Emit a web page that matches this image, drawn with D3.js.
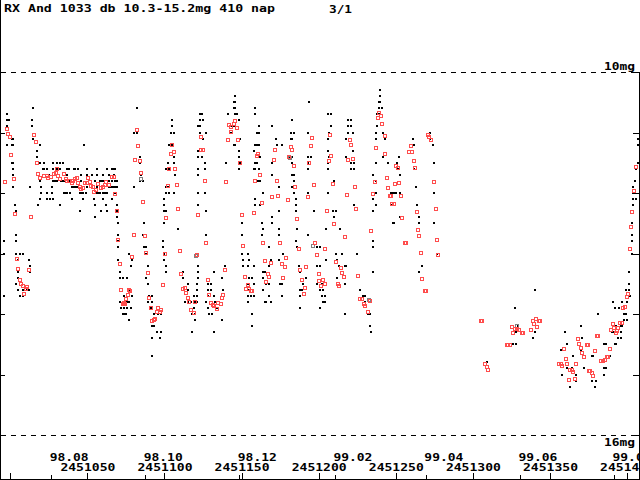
<!DOCTYPE html>
<html>
<head>
<meta charset="utf-8">
<title>RX And light curve</title>
<script src="https://d3js.org/d3.v7.min.js"></script>
<style>
  body { margin: 0; background: #fff; }
  svg { display: block; shape-rendering: crispEdges; }
  text { font-family: "DejaVu Sans Mono", monospace; font-weight: bold; font-size: 10px; fill: #000; }
  .axis line { stroke: #000; }
  .frame { stroke: #000; stroke-width: 1; }
  .dash { stroke: #000; stroke-dasharray: 5,5; }
</style>
</head>
<body>
<script>
const jd0 = 2451000;

// visual estimates (black dots): [day after JD 2451000, [magnitudes]]
const visualObs = [
  [-4,[12.8,13.0,13.7]],[-2,[10.7,10.8,10.9,11.2]],[-1,[10.8]],[1,[11.1,11.2,11.5]],
  [2,[11.1,11.2,11.5,11.6,11.7,11.9]],[3,[12.2]],[4,[12.3,12.7,12.8,13.0,13.5]],[5,[13.1,13.3,13.4,13.6]],
  [6,[13.0,13.7]],[8,[13.0,13.6,13.7]],[11,[13.6]],[12,[13.1,13.6]],[13,[11.9,13.2,13.3]],
  [14,[10.8,10.9]],[15,[10.6,11.1]],[17,[11.3,11.4]],[18,[12.2]],[19,[11.2,11.5,11.8,12.1]],
  [20,[11.9,12.0]],[21,[11.6]],[22,[11.5,11.6]],[24,[11.6,12.0,12.1]],[25,[11.7]],[26,[12.1]],
  [27,[11.9,12.0]],[28,[11.5,11.6,11.8,12.1]],[29,[11.8]],[30,[11.5,11.6,11.8]],[32,[11.5,11.6,12.2]],
  [33,[11.8]],[34,[11.5,11.8]],[35,[11.8,12.0]],[36,[12.0]],[37,[11.6,11.7,12.0]],[38,[11.6,11.8]],
  [39,[11.8,12.0]],[40,[11.9,12.1]],[41,[11.6,11.8,11.9]],[42,[11.6,11.9]],[43,[11.9]],[44,[11.6,11.9]],
  [45,[12.0,12.3]],[46,[11.7,11.8,12.0]],[47,[12.0,12.1]],[48,[11.2]],[49,[12.0]],[50,[11.6,11.7,11.9]],
  [53,[11.7]],[54,[12.1]],[55,[11.8,12.2,12.4]],[56,[11.6,11.7,11.9,12.0]],[57,[12.0]],[58,[11.8,12.0]],
  [59,[11.8,12.3]],[60,[11.7,11.8,12.0,12.1]],[61,[12.0]],[62,[12.0,12.2]],[63,[11.6,12.0,12.3]],
  [64,[11.7,11.8,11.9]],[65,[11.9]],[66,[11.6,11.8,11.9,12.1]],[67,[11.6,11.7,11.9]],[68,[11.6,11.8,11.9,12.0]],
  [69,[11.8,11.9,12.2,12.3,12.4]],[70,[12.5,12.7,12.8,12.9,13.1]],[71,[13.3,13.4,13.8]],[72,[13.9]],
  [73,[13.4,13.8,14.0]],[74,[13.7,13.8,13.9,14.0]],[75,[14.0]],[76,[13.4,13.8,13.9]],[77,[13.0,13.6,13.8,14.1]],
  [78,[13.2,13.6,13.9]],[79,[13.1,13.7]],[80,[11.0,11.9]],[82,[10.6,11.0]],[84,[11.4,11.5,11.8]],[85,[11.7]],
  [86,[11.8,12.7]],[87,[12.5,12.9]],[88,[12.9,13.0,13.4]],[89,[13.2,13.5,13.8]],[90,[13.7]],[91,[13.9]],
  [92,[13.7,13.8,14.2,14.4,14.7]],[93,[14.0,14.2]],[95,[14.3]],[96,[14.0]],[97,[14.4]],[98,[14.0,14.3]],
  [99,[12.8,12.9]],[100,[12.1,12.2,12.3,12.5,13.0,13.1]],[101,[11.6,11.9,12.0,12.3,13.2,13.3]],[102,[11.5,11.9]],
  [103,[11.2,11.6,12.0]],[104,[11.0]],[105,[10.8,10.9,11.2]],[106,[11.0,11.4,11.5,12.0]],[107,[11.7]],[109,[12.6]],
  [112,[13.3,13.4]],[113,[13.8]],[115,[13.5,13.6,13.8]],[117,[13.8]],[118,[14.0,14.3]],[119,[13.7,13.9]],
  [120,[13.8,14.0,14.1]],[121,[13.5,13.6,13.7,13.8]],[122,[10.9,11.3,11.4,11.6,11.7,12.0,12.2,13.2,13.3,13.4]],
  [123,[10.7,10.8,10.9,11.0]],[124,[10.7,11.4]],[125,[10.8,11.1]],[126,[11.5,11.6,12.0]],[127,[11.0,12.3,12.7,13.8]],
  [128,[13.5,13.6,13.7,13.9]],[129,[14.0]],[130,[13.5,13.6]],[131,[14.0]],[132,[13.3,13.7,14.3]],[133,[13.8]],
  [134,[13.9]],[137,[13.4,14.1]],[138,[13.6]],[139,[13.2]],[140,[11.5]],[141,[10.7]],[143,[11.0]],[144,[10.9,11.0]],
  [145,[10.5,10.6,10.9,11.2]],[146,[10.4,10.5,10.6,10.7,11.2]],[147,[10.7]],[148,[10.8,11.3,11.4,11.6]],
  [149,[11.1,11.5]],[150,[12.5,12.7,13.0]],[151,[13.1,13.2]],[154,[13.0,13.2,13.5,13.6,13.7,13.8]],
  [155,[13.1,13.4,13.6]],[156,[13.7]],[157,[13.4,14.0,14.2]],[158,[11.3,11.6,13.2,13.5,13.7]],
  [159,[10.6,10.7,11.2,11.5,11.6,12.1,12.2]],[160,[11.0,11.2,11.5,11.8]],[161,[10.9,11.0,11.2,11.4,11.6,11.8]],
  [162,[11.4,11.8,12.2]],[163,[12.5,12.7]],[164,[12.0,12.6,13.3,13.4,13.6]],[165,[13.3,13.8]],[166,[13.5,13.8]],
  [168,[12.9,13.2,13.5,13.7]],[169,[13.1,13.8]],[170,[10.9,11.5,11.7,12.4,12.5]],[172,[11.1]],[173,[11.2]],
  [174,[11.9,12.3,12.6,12.7,13.1]],[175,[13.5]],[176,[11.2,13.5,13.7]],[177,[13.0]],[181,[11.4]],[182,[11.0,11.1]],
  [183,[10.8,11.1,11.4,11.5,11.7,11.9]],[184,[11.0,11.7,11.8,12.0]],[185,[12.1,12.2,12.3,12.8]],[186,[12.6,12.9]],
  [187,[13.2]],[188,[13.3,13.6,13.7,13.9]],[189,[13.6]],[190,[13.5]],[192,[13.4]],[193,[11.0,11.4,11.5,11.6,12.0,12.7]],
  [194,[10.5]],[195,[11.4]],[197,[12.3]],[199,[12.9,13.2,13.5]],[201,[12.9,13.2,13.6,13.9]],[202,[13.5,13.7]],
  [203,[13.6,13.8]],[204,[13.7,13.8]],[205,[12.6,13.1]],[206,[10.7,11.1,11.3,11.5,11.6,12.0]],[207,[11.0,11.4]],
  [208,[10.7,10.9]],[209,[12.3]],[210,[11.8,12.4]],[211,[12.3,13.0]],[212,[13.1,13.4]],[213,[13.2]],[214,[12.6]],
  [215,[13.0]],[217,[13.2,13.5,14.0]],[218,[11.1,11.4,13.2]],[219,[10.8,10.9,11.0]],[221,[10.8,10.9,11.5,11.6]],
  [222,[11.0,11.3]],[223,[11.5,11.6,12.2]],[225,[13.0]],[227,[13.6]],[229,[13.7]],[230,[13.7,13.8]],[232,[14.0]],
  [233,[14.0,14.2]],[234,[14.3]],[235,[11.7,12.1,12.3,12.8,12.9,13.3]],[237,[11.0,11.1,11.5,11.8,12.0,12.2]],
  [238,[10.7,10.9]],[239,[10.5,10.6,10.7]],[240,[10.3,10.4,10.5]],[241,[10.6]],[242,[11.0,11.4]],[243,[11.1]],
  [245,[11.5]],[247,[12.0,12.2]],[248,[12.0,12.5]],[249,[12.0,12.5]],[250,[12.0]],[251,[11.5,11.6]],[252,[11.4,11.6]],
  [253,[11.7,12.0,12.4]],[261,[11.1]],[262,[11.2,11.6]],[263,[11.9]],[264,[12.2]],[265,[12.4,12.5,13.3]],[267,[13.2]],
  [272,[11.0,11.1]],[274,[11.2]],[275,[11.5,12.0,12.5]],[277,[13.0]],[309,[14.8]],[326,[14.5]],[327,[13.9]],
  [328,[14.3,14.5]],[329,[14.2]],[339,[14.4]],[340,[13.6,14.3]],[357,[14.6]],[358,[15.0]],[360,[14.3]],
  [361,[14.5,14.9]],[363,[15.2]],[364,[14.9]],[365,[14.7]],[367,[15.0,15.1]],[370,[14.2,14.6]],[371,[14.4]],
  [372,[14.9]],[377,[14.7,15.1]],[378,[14.7]],[379,[15.2]],[380,[15.1]],[381,[14.0]],[385,[14.5,14.9,15.0]],
  [386,[14.5,14.9]],[389,[14.7]],[390,[14.3]],[391,[13.8,14.3]],[392,[13.9,14.5]],[393,[14.2,14.5]],[394,[14.3,14.4]],
  [395,[13.9]],[396,[14.2,14.3,14.4]],[397,[13.8,14.2]],[398,[14.0,14.1]],[399,[13.6,14.0]],[400,[13.8,14.1]],
  [401,[13.3,13.5,13.6]],[402,[13.7]],[403,[12.5,12.7,12.8,13.0]],[404,[11.9,12.0,12.1,12.2]],[405,[11.8]],
  [406,[11.6,12.1]],[407,[11.1,11.2,11.5]]
];

// red squares: [day, magnitude]
const redObs = [
  [-2.1,10.94],[-1.5,11.02],[-0.2,11.07],[0.5,11.37],[-3.4,11.82],[2.4,11.77],[3.0,12.35],[4.3,13.09],
  [5.0,13.26],[6.3,13.44],[7.0,13.50],[8.2,13.54],[10.2,13.59],[10.8,13.55],[8.9,13.67],[12.1,13.27],
  [15.4,11.04],[16.7,11.16],[17.3,11.50],[13.4,12.40],
  [18,11.69],[19.3,11.75],[21.9,11.72],[23.8,11.72],[24.5,11.75],[26.4,11.74],[28.4,11.69],[29.7,11.67],
  [30.3,11.60],[31,11.72],[32.2,11.77],[34.8,11.69],[36.1,11.77],[36.8,11.80],[38.1,11.80],[40,11.83],
  [40.7,11.80],[42,11.77],[43.3,11.75],[43.9,11.83],[45.2,11.90],[45.9,11.93],[47.2,11.92],[48.5,11.83],
  [49.8,11.83],[50.4,11.75],[51.7,11.82],[52.3,11.88],[53.6,11.90],[54.3,11.98],[55.6,11.95],[56.9,11.85],
  [58.8,11.92],[60.1,11.90],[61.4,11.87],[62.1,11.82],[64,11.87],[66,11.74],[67.3,11.74],[67.9,12.02],
  [69.2,12.30],[69.9,12.78],[71.2,13.17],[71.8,13.60],[77,13.60],[76.4,13.69],[75.1,13.75],[73.8,13.82],
  [73.1,13.84],[74.4,13.84],
  [82.3,10.96],[82.9,11.22],[81,11.45],[84.2,11.47],[84.9,11.67],[86.2,12.15],[80.4,12.69],[87.5,12.71],
  [79.1,13.06],[88.1,12.99],[89.4,13.32],[77.6,13.62],[90,13.74],[91.3,13.90],[93.9,14.08],[95.8,13.90],
  [95.2,13.97],[97.2,13.97],[97.8,13.93],[92,14.12],[93.3,14.10],
  [104.9,11.21],[104.2,11.36],[106.2,11.32],[102.9,11.60],[106.8,11.60],[102.3,11.88],[108.1,11.87],
  [108.7,12.26],[100.9,12.41],[110,12.96],[100.3,13.01],[110.7,13.34],[99.0,13.52],[112,13.59],[113.3,13.57],
  [113.9,13.65],[115.8,13.80],[115.2,13.74],[117.1,13.93],[119.1,13.98],[119.7,13.80],[121,13.02],
  [126.9,12.83],[121.6,12.36],[126.2,11.80],[123.6,11.07],[123.6,11.29],[124.9,11.29],
  [128.2,13.44],[128.8,13.69],[130.1,13.82],[131.4,13.85],[132.2,13.87],[134.7,13.82],[136.6,13.84],
  [134,13.92],[137.3,13.74],[137.9,13.69],[139.2,13.27],[139.8,11.82],
  [145.7,10.81],[141.8,10.88],[143.1,10.91],[145,10.86],[147,10.93],[143.1,10.99],[141.2,11.12],[147.6,11.12],
  [148.9,11.50],[150.2,12.36],[150.9,12.88],[152.2,13.39],[154.1,13.52],[152.8,13.59],[154.7,13.59],
  [156,13.62],[156.6,13.62],[158,12.33],[158.6,11.80],[159.9,11.39],[160.5,11.36],[161.8,11.70],[163.1,12.17],
  [163.8,12.83],[165,13.12],[165.7,13.47],[167,13.34],[167.6,13.39],[168.9,13.16],[170.9,11.45],[171.5,11.29],
  [169.6,12.07],[173.5,12.05],[172.8,11.80],[174.8,12.83],[176.1,13.17],[178,13.22],[176.7,13.40],
  [178.7,13.07],[180,12.12],[180.6,11.40],[181.9,11.24],[182.6,11.29],[183.9,11.55],[184.5,11.90],[185.8,12.43],
  [187.1,12.93],[187.8,13.27],[189,13.44],[191,13.57],[190.4,13.67],[191.6,13.22],[192.9,12.07],[193.6,11.50],
  [194.8,11.22],[195.4,11.09],[196.7,11.87],[197.4,12.83],[198.6,13.02],[199.9,13.34],[200.5,13.45],
  [201.8,13.54],[202.5,13.44],[203.8,13.50],[204.4,12.93],[205.7,12.30],[206.4,11.47],[207.6,11.04],
  [208.3,11.39],[209.5,11.85],[210.2,12.51],[211.5,13.14],[212.8,13.50],[213.4,13.54],[214.7,13.24],
  [215.4,13.32],[216.6,13.39],[217.3,12.73],
  [219.2,11.45],[220.5,11.12],[221.1,11.21],[222.4,11.44],[223.7,11.90],[224.3,12.26],[218.5,12.03],
  [225.6,13.37],[226.9,13.75],[228.2,13.75],[229.5,13.84],[230.1,13.87],[232.1,13.97],[233.4,13.79],[234,12.63],
  [239.2,10.68],[238.5,10.76],[240.5,10.73],[241.1,10.86],[243.1,11.06],[237.3,11.26],[243.1,11.36],
  [244.3,11.75],[236.5,11.82],[245,11.92],[246.2,12.05],[235.2,12.02],[247.5,12.18],[248.8,12.18],[249.5,11.85],
  [270.9,11.04],[271.5,11.07],[272.8,11.12],[259.8,11.22],[258.5,11.32],[260.4,11.32],[261.7,11.47],
  [250.1,11.55],[251.4,11.59],[262.4,11.59],[252.1,11.83],[274.7,11.82],[253.4,12.05],[246.9,12.05],
  [263.7,12.31],[275.9,12.26],[254,12.41],[264.3,12.61],[265,12.71],[276.6,12.78],[256,12.83],[256.6,12.83],
  [266.3,12.99],[277.3,13.02],[266.9,13.42],[268.9,13.62],[269.5,13.62],
  [305,14.12],[306,14.12],[307.7,14.83],[309,14.88],[310,14.93],
  [325.4,14.21],[327.4,14.25],[328.8,14.25],[330,14.26],[326,14.31],[332,14.31],[332.6,14.31],
  [322,14.51],[322.6,14.51],[324,14.51],[337.5,14.26],[338.8,14.12],[340.8,14.08],[343,14.12],[343.6,14.12],
  [339.4,14.17],[341.3,14.21],
  [405.5,11.57],[404.2,11.97],[403.5,12.31],[402.3,12.56],[401.6,12.93],[400.4,13.67],[399.7,13.72],
  [398.4,13.88],[397.1,13.90],[395.2,14.15],[396.4,14.15],[390.6,14.17],[389.3,14.26],[391.2,14.23],
  [393.8,14.23],[393.2,14.28],[392.5,14.31],[388.6,14.58],[386.7,14.71],[387.3,14.71],[385.5,14.76],
  [382.9,14.78],[384.2,14.78],[380.3,14.36],[381,14.36],[379,14.61],[377.8,15.02],[377.1,14.98],
  [375.2,14.94],[375.8,14.94],[373.9,14.51],[374.5,14.51],[372,14.71],[370.7,14.64],[370.1,14.56],
  [368.8,14.50],[368.2,14.41],[366.9,14.83],[366.3,15.07],[365,14.96],[364.3,14.93],[363.1,14.93],
  [362.4,15.09],[361.1,14.83],[360.5,14.74],[359.2,14.58],[357.9,14.86],[357.3,14.83],[356,14.83]
];

// grey squares
const greyObs = [[85,11.77],[120.5,13.04],[181.4,11.42],[196.3,12.88],[232.6,13.77],[328.5,14.2]];

const jdTicks = [2451000, 2451050, 2451100, 2451150, 2451200, 2451250, 2451300, 2451350, 2451400];
const monthLabels = ["98.08", "98.10", "98.12", "99.02", "99.04", "99.06", "99.08"];
const monthJD = [2451026.5, 2451087.5, 2451148.5, 2451210.5, 2451269.5, 2451330.5, 2451391.5];
const magTicks = [10, 11, 12, 13, 14, 15, 16];
const titleText = "RX And 1033 db 10.3-15.2mg 410 nap";
const pageText = "3/1";

const W = 640, H = 480;
const svg = d3.select("body").append("svg").attr("width", W).attr("height", H);

const x = d3.scaleLinear().domain([-6.68, 407.72]).range([0, 639]);
const y = d3.scaleLinear().domain([10, 16]).range([72, 435]);

function stretch(sel) {
  sel.attr("textLength", function () { return this.textContent.length * 8 - 1; })
     .attr("lengthAdjust", "spacingAndGlyphs");
}

svg.append("defs").append("clipPath").attr("id", "clip")
  .append("rect").attr("x", 0).attr("y", 0).attr("width", 639).attr("height", H);

// dashed limit lines
svg.selectAll(".dash").data([10, 16]).enter().append("line")
  .attr("class", "dash")
  .attr("x1", 1).attr("x2", 639)
  .attr("y1", d => Math.round(y(d)) + 0.5).attr("y2", d => Math.round(y(d)) + 0.5);

// frame
svg.append("line").attr("class", "frame").attr("x1", 0.5).attr("x2", 0.5).attr("y1", 0).attr("y2", H);
svg.append("line").attr("class", "frame").attr("x1", 639.5).attr("x2", 639.5).attr("y1", y(10)).attr("y2", H);
svg.append("line").attr("class", "frame").attr("x1", 0).attr("x2", W).attr("y1", 479.5).attr("y2", 479.5);

// magnitude ticks
const leftAxis = svg.append("g").attr("class", "axis")
  .call(d3.axisLeft(y).tickValues(magTicks).tickSize(-5).tickFormat(""));
leftAxis.select(".domain").remove();
const rightAxis = svg.append("g").attr("class", "axis").attr("transform", "translate(639,0)")
  .call(d3.axisRight(y).tickValues(magTicks).tickSize(-6).tickFormat(""));
rightAxis.select(".domain").remove();

// JD axis
const plot = svg.append("g").attr("clip-path", "url(#clip)");
const jdAxis = plot.append("g").attr("class", "axis").attr("transform", "translate(0,479)")
  .call(d3.axisTop(x).tickValues(jdTicks.map(j => j - jd0)).tickSize(6).tickPadding(2)
    .tickFormat(d => d === 0 ? "" : String(d + jd0)));
jdAxis.select(".domain").remove();
jdAxis.selectAll("text").attr("fill", "#000").style("font-size", null).style("font-family", null).call(stretch);

// month axis
const monthAxis = plot.append("g").attr("class", "axis").attr("transform", "translate(0,479)")
  .call(d3.axisTop(x).tickValues(monthJD.map(j => j - jd0)).tickSize(4).tickPadding(14)
    .tickFormat((d, i) => monthLabels[i]));
monthAxis.select(".domain").remove();
monthAxis.selectAll("text").attr("fill", "#000").attr("text-anchor", "start").attr("dx", -2).call(stretch);
svg.selectAll(".axis").attr("font-family", null).attr("font-size", null);

// magnitude labels
svg.append("text").attr("x", 635).attr("y", y(10) - 2).attr("text-anchor", "end").text(magTicks[0] + "mg").call(stretch);
svg.append("text").attr("x", 635).attr("y", y(16) + 11).attr("text-anchor", "end").text(magTicks[6] + "mg").call(stretch);

// title
svg.append("text").attr("x", 4).attr("y", 12).text(titleText).call(stretch);
svg.append("text").attr("x", 329).attr("y", 13).text(pageText).call(stretch);

// black visual estimates
const pts = visualObs.flatMap(([d, ms]) => ms.map(m => [d, m]));
plot.append("g").selectAll("rect").data(pts).enter().append("rect")
  .attr("x", d => Math.round(x(d[0])) - 1)
  .attr("y", d => Math.round(y(d[1])) - 1)
  .attr("width", 2).attr("height", 2)
  .attr("fill", "#000");

// grey squares
plot.append("g").selectAll("rect").data(greyObs).enter().append("rect")
  .attr("x", d => Math.round(x(d[0])) - 1.5)
  .attr("y", d => Math.round(y(d[1])) - 1.5)
  .attr("width", 3).attr("height", 3)
  .attr("fill", "none").attr("stroke", "#808080");

// red squares
plot.append("g").selectAll("rect").data(redObs).enter().append("rect")
  .attr("x", d => Math.round(x(d[0])) - 1.5)
  .attr("y", d => Math.round(y(d[1])) - 1.5)
  .attr("width", 3).attr("height", 3)
  .attr("fill", "none").attr("stroke", "#ff4d4d");
</script>
</body>
</html>
